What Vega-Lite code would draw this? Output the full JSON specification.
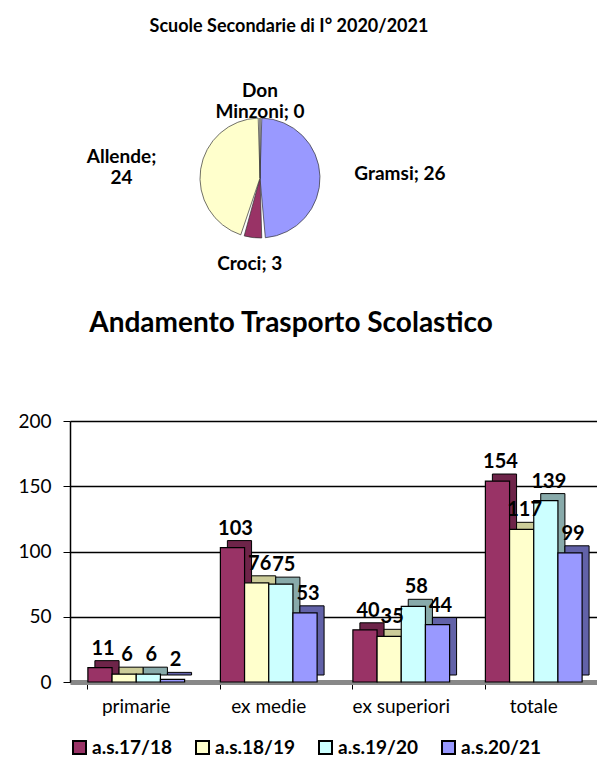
{
  "$schema": "https://vega.github.io/schema/vega-lite/v6.json",
  "background": "white",
  "padding": {"left": 17, "top": 18, "right": 0, "bottom": 0},
  "config": {"font": "Lato", "view": {"stroke": null}, "title": {"color": "black", "fontWeight": "bold", "anchor": "middle"}},
  "bounds": "flush",
  "spacing": 113,
  "vconcat": [
    {
      "title": {"text": "Scuole Secondarie di I°  2020/2021", "fontSize": 18, "dx": 29, "offset": -7},
      "width": 380,
      "height": 260,
      "data": {"values": [
        {"scuola": "Gramsi", "alunni": 26, "etichetta": "Gramsi; 26"},
        {"scuola": "Croci", "alunni": 3, "etichetta": "Croci; 3"},
        {"scuola": "Allende", "alunni": 24, "etichetta": "Allende;\n24"},
        {"scuola": "Don Minzoni", "alunni": 0, "etichetta": "Don\nMinzoni; 0"}
      ]},
      "transform": [{"window": [{"op": "row_number", "as": "idx"}]}],
      "encoding": {
        "theta": {"field": "alunni", "type": "quantitative", "stack": true},
        "order": {"field": "idx", "type": "quantitative"}
      },
      "layer": [
        {
          "mark": {"type": "arc", "outerRadius": 60, "padAngle": 0.06, "stroke": "#333", "strokeWidth": 0.7},
          "encoding": {
            "color": {"field": "scuola", "type": "nominal",
              "scale": {"domain": ["Gramsi", "Croci", "Allende", "Don Minzoni"], "range": ["#9999FF", "#993366", "#FFFFCC", "#CCFFFF"]},
              "legend": null}
          }
        },
        {
          "mark": {"type": "text", "radius": 140, "fontSize": 19, "fontWeight": "bold", "lineBreak": "\n", "color": "black"},
          "encoding": {"text": {"condition": {"test": {"field": "scuola", "oneOf": ["Gramsi", "Allende"]}, "field": "etichetta", "type": "nominal"}, "value": ""}}
        },
        {
          "mark": {"type": "text", "radius": 87, "fontSize": 19, "fontWeight": "bold", "lineBreak": "\n", "color": "black"},
          "encoding": {"text": {"condition": {"test": {"field": "scuola", "oneOf": ["Croci", "Don Minzoni"]}, "field": "etichetta", "type": "nominal"}, "value": ""}}
        }
      ]
    },
    {
      "title": {"text": "Andamento Trasporto Scolastico", "fontSize": 28, "dx": -44, "offset": 74},
      "width": 530,
      "height": 261,
      "data": {"values": [
        {"categoria": "primarie", "anno": "a.s.17/18", "valore": 11},
        {"categoria": "primarie", "anno": "a.s.18/19", "valore": 6},
        {"categoria": "primarie", "anno": "a.s.19/20", "valore": 6},
        {"categoria": "primarie", "anno": "a.s.20/21", "valore": 2},
        {"categoria": "ex medie", "anno": "a.s.17/18", "valore": 103},
        {"categoria": "ex medie", "anno": "a.s.18/19", "valore": 76},
        {"categoria": "ex medie", "anno": "a.s.19/20", "valore": 75},
        {"categoria": "ex medie", "anno": "a.s.20/21", "valore": 53},
        {"categoria": "ex superiori", "anno": "a.s.17/18", "valore": 40},
        {"categoria": "ex superiori", "anno": "a.s.18/19", "valore": 35},
        {"categoria": "ex superiori", "anno": "a.s.19/20", "valore": 58},
        {"categoria": "ex superiori", "anno": "a.s.20/21", "valore": 44},
        {"categoria": "totale", "anno": "a.s.17/18", "valore": 154},
        {"categoria": "totale", "anno": "a.s.18/19", "valore": 117},
        {"categoria": "totale", "anno": "a.s.19/20", "valore": 139},
        {"categoria": "totale", "anno": "a.s.20/21", "valore": 99}
      ]},
      "encoding": {
        "x": {"field": "categoria", "type": "nominal", "sort": ["primarie", "ex medie", "ex superiori", "totale"],
          "scale": {"paddingInner": 0.27, "paddingOuter": 0.135},
          "axis": {"title": null, "labelAngle": 0, "labelFontSize": 19, "labelColor": "black", "bandPosition": 0,
            "tickColor": "black", "tickSize": 7, "tickWidth": 1, "domainColor": "#888888", "domainWidth": 5, "labelPadding": 8}},
        "xOffset": {"field": "anno", "type": "nominal", "sort": ["a.s.17/18", "a.s.18/19", "a.s.19/20", "a.s.20/21"]},
        "y": {"field": "valore", "type": "quantitative", "scale": {"domain": [0, 200]},
          "axis": {"title": null, "values": [0, 50, 100, 150, 200], "labelFontSize": 19, "labelColor": "black",
            "tickColor": "black", "tickSize": 7, "labelPadding": 12, "gridColor": "black", "gridWidth": 1.5,
            "domainColor": "black", "domainWidth": 1.5}}
      },
      "layer": [
        {
          "mark": {"type": "bar", "yOffset": -7, "stroke": "black", "strokeWidth": 1},
          "encoding": {
            "xOffset": {"field": "anno", "type": "nominal", "sort": ["a.s.17/18", "a.s.18/19", "a.s.19/20", "a.s.20/21"], "scale": {"range": [7, 103.7]}},
            "color": {"field": "anno", "type": "nominal",
              "scale": {"domain": ["a.s.17/18", "a.s.18/19", "a.s.19/20", "a.s.20/21"], "range": ["#6E2449", "#CCCC99", "#88AAAA", "#6262A8"]},
              "legend": null}
          }
        },
        {
          "mark": {"type": "bar", "stroke": "black", "strokeWidth": 1.2},
          "encoding": {
            "color": {"field": "anno", "type": "nominal",
              "scale": {"domain": ["a.s.17/18", "a.s.18/19", "a.s.19/20", "a.s.20/21"], "range": ["#993366", "#FFFFCC", "#CCFFFF", "#9999FF"]},
              "legend": {"title": null, "orient": "bottom", "direction": "horizontal", "symbolType": "square", "symbolSize": 169,
                "symbolStrokeColor": "black", "symbolStrokeWidth": 2, "labelFontSize": 19, "labelFontWeight": "bold",
                "labelColor": "black", "columnPadding": 20, "labelOffset": 3, "offset": 22}}
          }
        },
        {
          "mark": {"type": "text", "baseline": "bottom", "dy": -9, "dx": 3, "fontSize": 20, "fontWeight": "bold", "color": "black"},
          "encoding": {"text": {"field": "valore", "type": "quantitative"}}
        }
      ],
      "resolve": {"scale": {"color": "independent", "xOffset": "independent"}}
    }
  ]
}
